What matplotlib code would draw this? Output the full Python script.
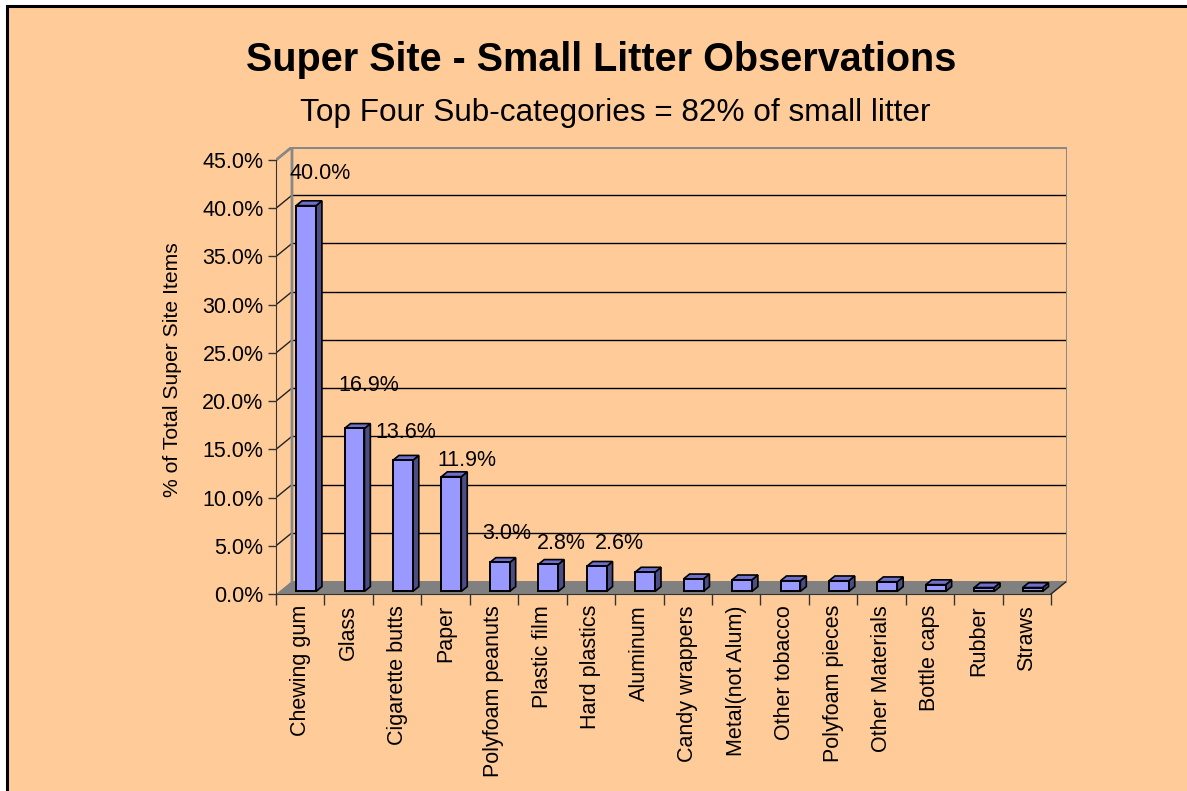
import matplotlib.pyplot as plt
from matplotlib.patches import Polygon, Rectangle
import numpy as np

plt.rcParams['font.family'] = ['Liberation Sans', 'DejaVu Sans']

# data (% of total super site items)
categories = ['Chewing gum', 'Glass', 'Cigarette butts', 'Paper', 'Polyfoam peanuts',
              'Plastic film', 'Hard plastics', 'Aluminum', 'Candy wrappers', 'Metal(not Alum)',
              'Other tobacco', 'Polyfoam pieces', 'Other Materials', 'Bottle caps', 'Rubber', 'Straws']
values = [40.0, 16.9, 13.6, 11.9, 3.0, 2.8, 2.6, 2.0, 1.3, 1.2, 1.1, 1.1, 1.0, 0.7, 0.4, 0.4]
n_labelled = 7  # only the first seven bars carry a data label
y_ticks = [0, 5, 10, 15, 20, 25, 30, 35, 40, 45]

title = 'Super Site - Small Litter Observations'
subtitle = 'Top Four Sub-categories = 82% of small litter'
ylabel = '% of Total Super Site Items'

# layout
W, H, dpi = 1187, 791, 100
bg = '#ffcc99'
DX, DY = 0.33, 1.35          # depth of the pseudo 3d box in data units
d0, d1 = 0.2, 0.57           # bar depth as fraction of the box depth
bar_off, bar_w = 0.35, 0.41
fs = 15.5
# label nudges in pixels (Excel places 3d labels a bit irregularly)
label_nudge = [(14, 32), (14, 43), (3, 28), (15, 16), (7, 29), (13, 21), (23, 23)]

fig = plt.figure(figsize=(W / dpi, H / dpi), dpi=dpi, facecolor='white')
frame = Rectangle((7 / W, -0.05), 1.1, 1 - 6 / H + 0.05, transform=fig.transFigure,
                  facecolor=bg, edgecolor='black', lw=2.2, zorder=-5)
fig.add_artist(frame)

ax = fig.add_axes([276 / W, 1 - 594 / H, (1067 - 276) / W, (594 - 147) / H])
ax.set_facecolor('none')
N = len(categories)
top = y_ticks[-1]
ax.set_xlim(0, N + DX)
ax.set_ylim(0, top + DY)

# floor
ax.add_patch(Polygon([(0, 0), (N, 0), (N + DX, DY), (DX, DY)], closed=True,
                     facecolor='#808080', edgecolor='none', zorder=1))
# back wall grid
for v in y_ticks[1:]:
    ax.plot([DX, N + DX], [v + DY, v + DY], color='black', lw=1.0, zorder=1)
    ax.plot([0, DX], [v, v + DY], color='#222222', lw=1.0, zorder=1)
ax.plot([N, N + DX], [0, DY], color='#222222', lw=1.0, zorder=2)
# wall border
ax.plot([0, DX, DX], [top, top + DY, DY], color='#888888', lw=2, zorder=2)
ax.plot([DX, N + DX, N + DX], [top + DY, top + DY, DY], color='#888888', lw=2.2, zorder=2)

# bars
for i, v in enumerate(values):
    x0 = i + bar_off
    x1 = x0 + bar_w
    fx, fy = d0 * DX, d0 * DY
    bx, by = d1 * DX, d1 * DY
    front = [(x0 + fx, fy), (x1 + fx, fy), (x1 + fx, v + fy), (x0 + fx, v + fy)]
    side = [(x1 + fx, fy), (x1 + bx, by), (x1 + bx, v + by), (x1 + fx, v + fy)]
    lid = [(x0 + fx, v + fy), (x1 + fx, v + fy), (x1 + bx, v + by), (x0 + bx, v + by)]
    ax.add_patch(Polygon(side, closed=True, facecolor='#4d4d85', edgecolor='black', lw=1.2, zorder=3))
    ax.add_patch(Polygon(lid, closed=True, facecolor='#6f6fcc', edgecolor='black', lw=1.2, zorder=3))
    ax.add_patch(Polygon(front, closed=True, facecolor='#9999ff', edgecolor='black', lw=1.4, zorder=4))
    if i < n_labelled:
        nx, ny = label_nudge[i]
        ax.annotate(f'{v:.1f}%', ((x0 + x1) / 2 + fx, v + fy), xytext=(nx * 0.72, ny * 0.72),
                    textcoords='offset points', ha='center', va='center', fontsize=fs, zorder=5)

# axes lines and ticks
for s in ['top', 'right']:
    ax.spines[s].set_visible(False)
ax.spines['left'].set_bounds(0, top)
ax.spines['bottom'].set_bounds(0, N)
ax.spines['left'].set_color('#333333')
ax.spines['bottom'].set_color('#333333')
ax.spines['left'].set_zorder(2)
ax.spines['bottom'].set_zorder(2)
ax.set_yticks(y_ticks)
ax.set_yticklabels([f'{t:.1f}%' for t in y_ticks])
ax.tick_params(axis='y', length=6, width=1, color='#333333', labelsize=fs, pad=3)
ax.set_xticks(np.arange(N + 1))
ax.set_xticklabels([])
ax.set_xticks(np.arange(N) + 0.5, minor=True)
ax.set_xticklabels(categories, minor=True, rotation=90, fontsize=fs, va='top', ha='center')
ax.tick_params(axis='x', which='major', length=8, width=1, color='#333333')
ax.tick_params(axis='x', which='minor', length=0, pad=8)

fig.text(601 / W, 1 - 60 / H, title, ha='center', va='center', fontsize=28.5, fontweight='bold')
fig.text(615 / W, 1 - 113 / H, subtitle, ha='center', va='center', fontsize=22.7)
fig.text(173 / W, 1 - 370 / H, ylabel, ha='center', va='center', rotation=90, fontsize=15.2)

plt.savefig('out.png', dpi=dpi, facecolor='white')
